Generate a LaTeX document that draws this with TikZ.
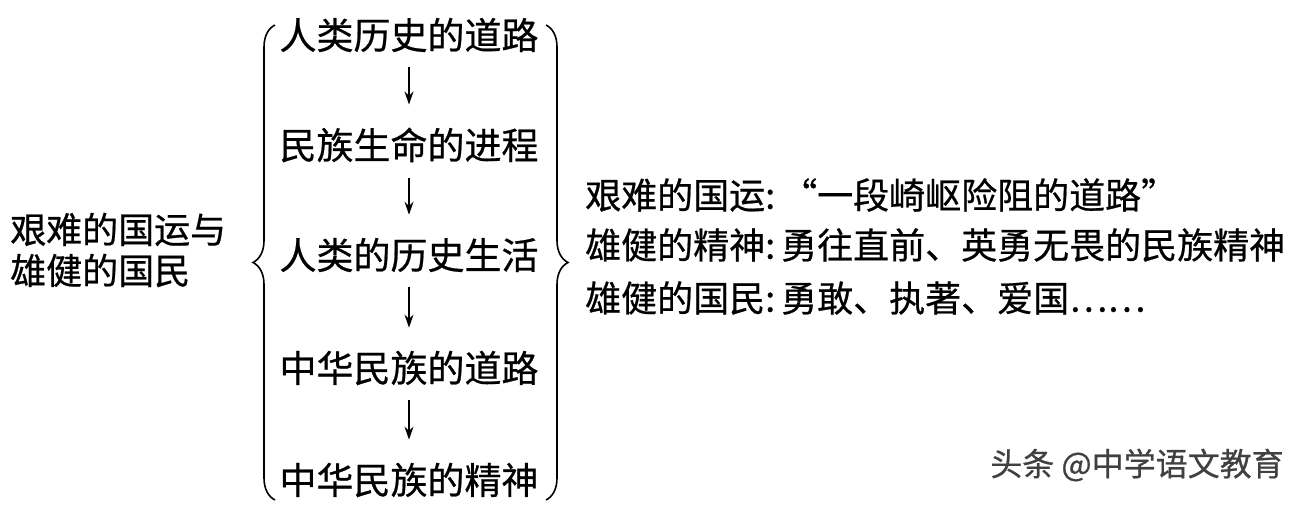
\documentclass[tikz,border=0pt]{standalone}
\usepackage{fontspec}
\setmainfont[FakeBold=0.6]{Noto Sans CJK SC}
\usetikzlibrary{decorations.pathreplacing,arrows.meta}
\begin{document}
\begin{tikzpicture}[x=1pt,y=-1pt,
   every node/.style={inner sep=0pt,font=\fontsize{36}{41}\selectfont},
   flow/.style={-{Stealth[length=13pt,width=9pt]},line width=1.3pt,shorten <=15pt,shorten >=23pt},
   bracebar/.style={decorate,decoration={brace,amplitude=22pt},line width=1.6pt}]
   \useasboundingbox (0,0) rectangle (1309,508);

   % left topic
   \node[align=left,anchor=west] (topic) at (10,250) {艰难的国运与\\雄健的国民};

   % middle column
   \foreach \t/\y [count=\i] in {人类历史的道路/35,民族生命的进程/145,人类的历史生活/255,中华民族的道路/368,中华民族的精神/480}
   \node[font=\fontsize{37}{41}\selectfont] (m\i) at (409,\y) {\t};

   \foreach \i in {1,...,4}
   {\pgfmathtruncatemacro\j{\i+1}
    \draw[flow] (m\i) -- (m\j);}

   % braces
   \coordinate (lb1) at (275,500);
   \coordinate (lb2) at (275,25);
   \coordinate (rb1) at (546,25);
   \coordinate (rb2) at (546,500);
   \draw[bracebar] (lb1) -- (lb2);
   \draw[bracebar] (rb1) -- (rb2);

   % right column
   \node[anchor=west] (r1) at (585,195) {艰难的国运:\,“一段崎岖险阻的道路”};
   \node[anchor=west] (r2) at (585,245) {雄健的精神:\,勇往直前、英勇无畏的民族精神};
   \node[anchor=west] (r3) at (585,298) {雄健的国民:\,勇敢、执著、爱国……};

   % watermark
   \node[font=\fontsize{32}{36}\selectfont,text=black!75] (wm) at (1137,465) {头条 @中学语文教育};

\end{tikzpicture}
\end{document}
